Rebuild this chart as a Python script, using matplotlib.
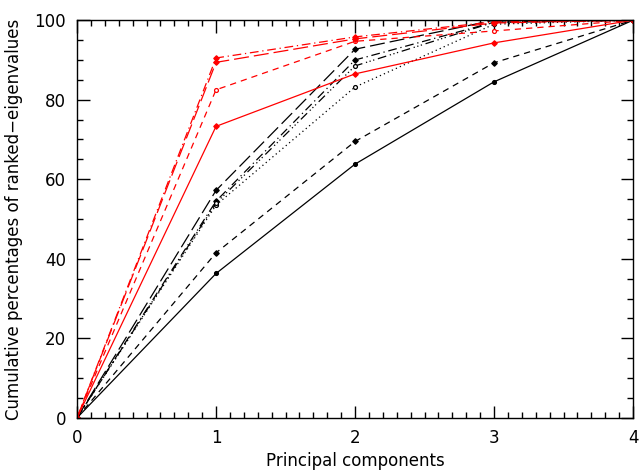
import matplotlib
matplotlib.use("Agg")
import matplotlib.pyplot as plt
from matplotlib.ticker import MultipleLocator

x = [0, 1, 2, 3, 4]

# black curves
blk_solid = [0, 36.3, 63.8, 84.5, 100]
blk_dashed = [0, 41.5, 69.5, 89.3, 100]
blk_dotted = [0, 53.5, 83.2, 99.0, 100]
blk_dashdot = [0, 54.5, 90.0, 99.5, 100]
blk_dashdotdot = [0, 54.0, 88.5, 99.5, 100]
blk_longdash = [0, 57.2, 92.7, 100, 100]

# red curves
red_solid = [0, 73.3, 86.5, 94.3, 100]
red_dashed = [0, 82.5, 94.7, 97.3, 100]
red_dashdot = [0, 90.5, 95.8, 99.6, 100]
red_longdash = [0, 89.4, 95.3, 99.3, 100]

fig = plt.figure(figsize=(6.42, 4.70), dpi=100)
ax = fig.add_axes([0.12, 0.111, 0.866, 0.846])

styles = {
    "solid": "-",
    "dashed": (0, (5, 4)),
    "dotted": (0, (1, 2.5)),
    "dashdot": (0, (7, 3, 1, 3)),
    "dashdotdot": (0, (7, 3, 1, 2, 1, 2, 1, 3)),
    "longdash": (0, (12, 4)),
}

def draw(y, color, ls, marker, mfc):
    ax.plot(x, y, color=color, linestyle=styles[ls], lw=0.9,
            marker=marker, ms=2.8, mfc=mfc, mec=color, mew=0.9)

draw(blk_solid, "black", "solid", "o", "black")
draw(blk_dashed, "black", "dashed", "D", "black")
draw(blk_dotted, "black", "dotted", "o", "white")
draw(blk_dashdot, "black", "dashdot", "D", "black")
draw(blk_dashdotdot, "black", "dashdotdot", "o", "white")
draw(blk_longdash, "black", "longdash", "D", "black")

draw(red_solid, "red", "solid", "D", "red")
draw(red_dashed, "red", "dashed", "o", "white")
draw(red_dashdot, "red", "dashdot", "D", "red")
draw(red_longdash, "red", "longdash", "D", "red")

ax.set_xlim(0, 4)
ax.set_ylim(0, 100)
ax.xaxis.set_major_locator(MultipleLocator(1))
ax.xaxis.set_minor_locator(MultipleLocator(0.1))
ax.yaxis.set_major_locator(MultipleLocator(20))
ax.yaxis.set_minor_locator(MultipleLocator(5))
ax.tick_params(which="both", direction="in", top=True, right=True,
               labelsize=12, width=1.0)
ax.tick_params(which="major", length=9, pad=8)
ax.tick_params(which="minor", length=4.5)
for s in ax.spines.values():
    s.set_linewidth(1.0)

ax.set_xlabel("Principal components", fontsize=12, labelpad=4)
ax.set_ylabel("Cumulative percentages of ranked\u2212eigenvalues", fontsize=12, labelpad=8)

plt.savefig("out.png", dpi=100)
